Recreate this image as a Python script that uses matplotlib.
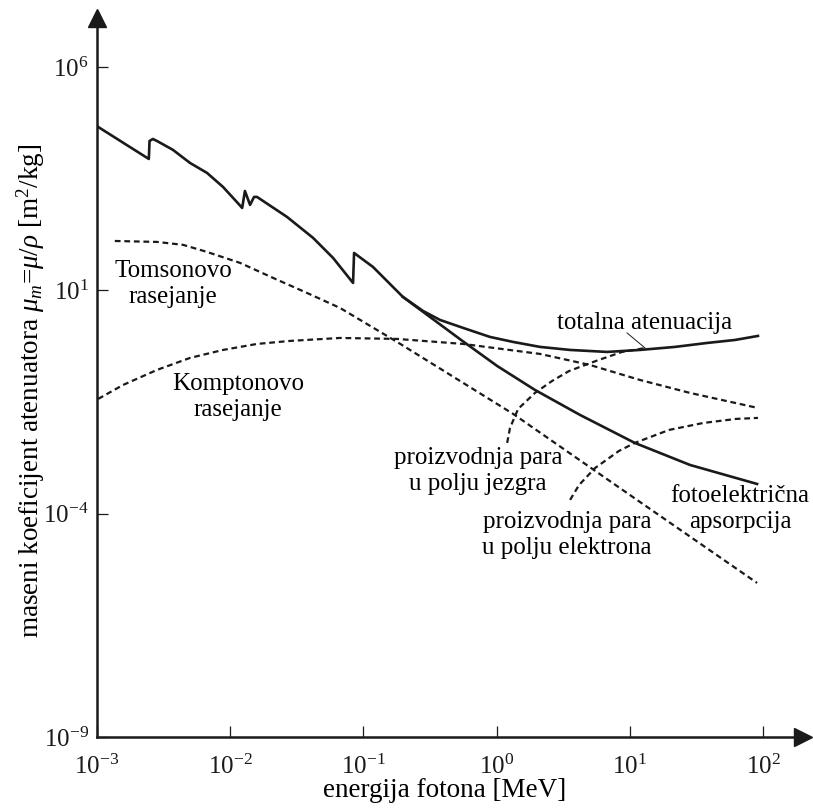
import numpy as np
import matplotlib
matplotlib.use('Agg')
import matplotlib.pyplot as plt

plt.rcParams['font.family'] = ['Liberation Serif', 'DejaVu Serif']
plt.rcParams['mathtext.fontset'] = 'custom'
plt.rcParams['mathtext.rm'] = 'Liberation Serif'
plt.rcParams['mathtext.it'] = 'Liberation Serif:italic'

# ---- data (E in MeV, mu_m in m^2/kg) ----
total_E = [1.02e-3, 2.45e-3, 2.48e-3, 2.63e-3, 2.82e-3, 3.72e-3, 4.99e-3, 6.70e-3,
           8.83e-3, 1.12e-2, 1.23e-2, 1.29e-2, 1.41e-2, 1.51e-2, 1.59e-2, 2.67e-2,
           4.19e-2, 5.92e-2, 8.36e-2, 8.51e-2, 0.118, 0.198, 0.280, 0.376, 0.560,
           0.891, 1.33, 2.12, 3.56, 6.74, 11.9, 21.8, 38.0, 61.7, 91.6]
total_mu = [4.54e4, 8.71e3, 2.20e4, 2.44e4, 2.20e4, 1.39e4, 7.10e3, 4.24e3,
            2.06e3, 951, 697, 1.67e3, 815, 1.23e3, 1.23e3, 439,
            149, 53.0, 14.6, 68.5, 33.3, 7.10, 3.45, 2.17, 1.44,
            0.904, 0.698, 0.540, 0.462, 0.417, 0.462, 0.540, 0.662, 0.773, 0.951]

photo_E = [0.198, 0.316, 0.541, 1.01, 1.94, 4.23, 10.9, 28.3, 90.2]
photo_mu = [7.10, 2.53, 0.773, 0.202, 0.0588, 0.0162, 3.83e-3, 1.23e-3, 4.62e-4]

thomson_E = [1.36e-3, 2.82e-3, 4.43e-3, 6.70e-3, 1.19e-2, 2.10e-2, 3.77e-2, 6.67e-2,
             0.179, 0.531, 1.33, 11.9, 90.2]
thomson_mu = [127, 121, 104, 72.2, 40.9, 18.9, 8.73, 4.03,
              0.698, 0.0935, 0.0171, 1.83e-4, 2.81e-6]

compton_E = [1.02e-3, 1.57e-3, 2.82e-3, 4.99e-3, 8.83e-3, 1.59e-2, 2.81e-2, 6.67e-2,
             0.179, 0.560, 2.12, 5.02, 11.9, 28.3, 91.6]
compton_mu = [0.0370, 0.0760, 0.165, 0.306, 0.462, 0.630, 0.735, 0.857,
              0.815, 0.630, 0.376, 0.213, 0.0984, 0.0504, 0.0232]

pair_nuc_E = [1.20, 1.26, 1.45, 1.94, 2.61, 3.50, 5.57, 8.73, 13.2]
pair_nuc_mu = [3.83e-3, 8.28e-3, 0.0221, 0.0504, 0.0935, 0.156, 0.262, 0.417, 0.512]

pair_el_E = [3.56, 4.16, 5.48, 8.30, 10.9, 19.7, 35.5, 62.7, 91.6]
pair_el_mu = [2.03e-4, 4.39e-4, 1.05e-3, 2.54e-3, 3.83e-3, 7.48e-3, 0.0107, 0.0132, 0.0139]

xticks = [1e-3, 1e-2, 1e-1, 1e0, 1e1, 1e2]
xtick_labels = ['$10^{-3}$', '$10^{-2}$', '$10^{-1}$', '$10^{0}$', '$10^{1}$', '$10^{2}$']
yticks = [1e-9, 1e-4, 1e1, 1e6]
ytick_labels = ['$10^{-9}$', '$10^{-4}$', '$10^{1}$', '$10^{6}$']

fig = plt.figure(figsize=(8.13, 8.09), dpi=100)
ax = fig.add_axes([0.1193, 0.089, 0.8684, 0.889])
ax.set_xscale('log')
ax.set_yscale('log')
ax.set_xlim(1e-3, 10**2.30)
ax.set_ylim(1e-9, 10**7.1)

solid = dict(color='#1a1a1a', lw=1.9, solid_joinstyle='round')
dash = dict(color='#1a1a1a', lw=1.6, linestyle=(0, (2.6, 1.7)))

ax.plot(total_E, total_mu, **solid)
ax.plot(photo_E, photo_mu, **solid)
ax.plot(thomson_E, thomson_mu, **dash)
ax.plot(compton_E, compton_mu, **dash)
ax.plot(pair_nuc_E, pair_nuc_mu, **dash)
ax.plot(pair_el_E, pair_el_mu, **dash)

# leader line for the total attenuation label
ax.plot([9.53, 13.0], [1.11, 0.512], color='#1a1a1a', lw=0.7)

fs = 18
ls = 1.2
ax.text(3.72e-3, 13.9, 'Tomsonovo\nrasejanje', ha='center', va='center', fontsize=fs, linespacing=ls)
ax.text(0.0115, 0.041, 'Komptonovo\nrasejanje', ha='center', va='center', fontsize=fs, linespacing=ls)
ax.text(13.0, 1.86, 'totalna atenuacija', ha='center', va='center', fontsize=fs)
ax.text(0.724, 9.04e-4, 'proizvodnja para\nu polju jezgra', ha='center', va='center', fontsize=fs, linespacing=ls)
ax.text(3.38, 3.33e-5, 'proizvodnja para\nu polju elektrona', ha='center', va='center', fontsize=fs, linespacing=ls)
ax.text(67.1, 1.27e-4, 'fotoelektrična\napsorpcija', ha='center', va='center', fontsize=fs, linespacing=ls)

# axes styling: only left/bottom spines with arrows
for s in ['top', 'right']:
    ax.spines[s].set_visible(False)
for s in ['left', 'bottom']:
    ax.spines[s].set_linewidth(1.8)
    ax.spines[s].set_color('#1a1a1a')
ax.plot(1, 0, '>', color='#1a1a1a', ms=13, transform=ax.transAxes, clip_on=False)
ax.plot(0, 1, '^', color='#1a1a1a', ms=13, transform=ax.transAxes, clip_on=False)

ax.set_xticks(xticks)
ax.set_xticklabels(xtick_labels)
ax.set_yticks(yticks)
ax.set_yticklabels(ytick_labels)
ax.minorticks_off()
ax.tick_params(direction='in', length=8, width=0.9, labelsize=18, colors='#1a1a1a')
ax.tick_params(axis='x', pad=13)
ax.tick_params(axis='y', pad=6)

ax.set_xlabel('energija fotona [MeV]', fontsize=19.5)
ax.set_ylabel(r'maseni koeficijent atenuatora $\mu_m$=$\mu/\rho$ [m$^2$/kg]', fontsize=19.5)
ax.xaxis.set_label_coords(0.493, -0.057)
ax.yaxis.set_label_coords(-0.071, 0.481)

fig.savefig('out.png', dpi=100)
